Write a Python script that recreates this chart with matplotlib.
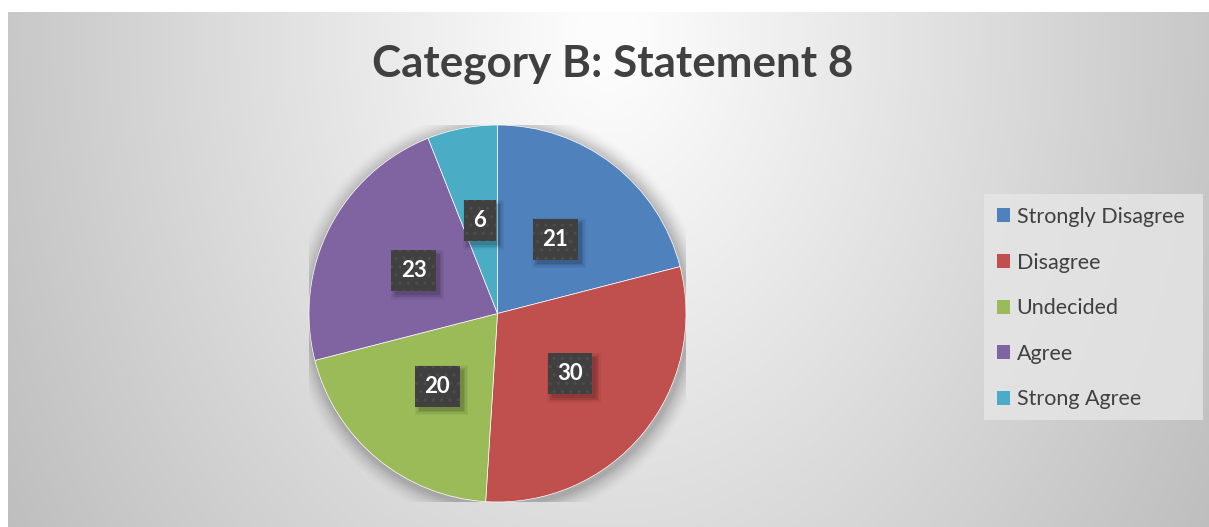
import numpy as np
import matplotlib
matplotlib.use("Agg")
import matplotlib.pyplot as plt
import matplotlib.transforms as mtransforms
from matplotlib.patches import Rectangle

# ── Data ──────────────────────────────────────────────────────────────────────
categories = ["Strongly Disagree", "Disagree", "Undecided", "Agree", "Strong Agree"]
counts = [21, 30, 20, 23, 6]
colors = ["#4F81BD", "#C0504D", "#9BBB59", "#8064A2", "#4BACC6"]
title = "Category B: Statement 8"

TXT = "#404040"
plt.rcParams["font.family"] = ["Lato", "DejaVu Sans"]
plt.rcParams["hatch.linewidth"] = 1.2

W, H = 1209, 527
fig = plt.figure(figsize=(W / 100, H / 100), dpi=100)
fig.patch.set_facecolor("white")

# ── Chart-area background: radial grey gradient ──────────────────────────────
# chart area spans x 8..1209, y 12..527 (pixels from the top-left corner)
bx0, btop, bw, bh = 8, 12, 1201, 515
bg = fig.add_axes([bx0 / W, 0, bw / W, bh / H])
xx, yy = np.meshgrid(np.linspace(0, bw, 400), np.linspace(0, bh, 200))
d = np.sqrt(((xx - 600) / 600) ** 2 + ((yy - 20) / 800) ** 2)
val = np.clip(255 - 55 * d, 188, 252) / 255.0
bg.imshow(np.dstack([val, val, val]), extent=(0, bw, bh, 0), aspect="auto",
          interpolation="bilinear")
bg.axis("off")

# legend backing panel (pixels from top-left: x 984..1203, y 194..420)
bg.add_patch(Rectangle((984 - bx0, 194 - btop), 1203 - 984, 420 - 194,
                       facecolor="#e6e6e6", alpha=0.8, lw=0))

# ── Pie ──────────────────────────────────────────────────────────────────────
cx, cy, r = 497.5, 313.5, 188.5
ax = fig.add_axes([(cx - r) / W, (H - cy - r) / H, 2 * r / W, 2 * r / H])
ax.set_zorder(2)

# soft shadow around the pie
for k, a in enumerate(np.linspace(0.05, 0.012, 8)):
    ax.add_patch(plt.Circle((0.01, -0.015), 1.0 + 0.012 * (k + 1),
                            color="black", alpha=a, lw=0, zorder=0))

wedges, texts, autotexts = ax.pie(
    counts, colors=colors, startangle=90, counterclock=False,
    autopct=lambda p: f"{p * sum(counts) / 100:.0f}", pctdistance=0.5,
    wedgeprops=dict(edgecolor="white", linewidth=0.5),
    textprops=dict(color="white", fontsize=16, fontweight="bold"),
)
ax.set_xlim(-1, 1)
ax.set_ylim(-1, 1)
ax.set_aspect("equal")

# ── Title ────────────────────────────────────────────────────────────────────
fig.text(613 / W, 1 - 64 / H, title, ha="center", va="center",
         fontsize=31.7, fontweight="bold", color=TXT)

# ── Legend ───────────────────────────────────────────────────────────────────
leg = fig.legend(wedges, categories, loc="upper left",
                 bbox_to_anchor=(984 / W, 1 - 194 / H), borderaxespad=0,
                 frameon=False, fontsize=15.5,
                 labelspacing=1.19, handlelength=0.62, handleheight=0.62,
                 handletextpad=0.3, borderpad=0.6, labelcolor=TXT)
for h in leg.legend_handles:
    h.set_edgecolor("none")

# ── Data-label boxes (dark, dotted, with drop shadow) ────────────────────────
fig.canvas.draw()
renderer = fig.canvas.get_renderer()
ident = mtransforms.IdentityTransform()
for t in autotexts:
    t.set_zorder(6)
    ext = t.get_window_extent(renderer)
    xc, yc = (ext.x0 + ext.x1) / 2, (ext.y0 + ext.y1) / 2
    bw_, bh_ = ext.width + 19, 41
    for k, a in enumerate([0.10, 0.08, 0.06, 0.04]):
        g = k * 1.5
        sh = Rectangle((xc - bw_ / 2 + 4 - g, yc - bh_ / 2 - 4 - g),
                       bw_ + 2 * g, bh_ + 2 * g, transform=ident,
                       facecolor="black", alpha=a, lw=0, zorder=4)
        ax.add_artist(sh)
    box = Rectangle((xc - bw_ / 2, yc - bh_ / 2), bw_, bh_, transform=ident,
                    facecolor="#404040", edgecolor="#4c4c4c", hatch="..",
                    lw=0, zorder=5)
    ax.add_artist(box)

fig.savefig("out.png", dpi=100)
